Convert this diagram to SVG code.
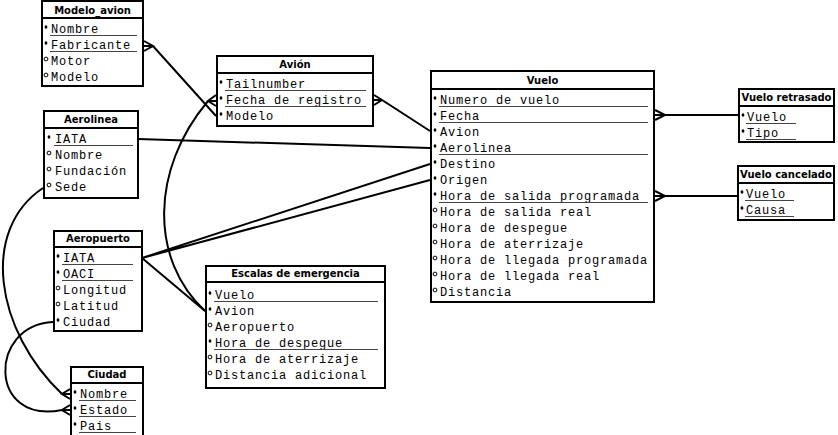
<svg xmlns="http://www.w3.org/2000/svg" xmlns:xlink="http://www.w3.org/1999/xlink" width="838" height="435" viewBox="0 0 838 435">
<style>
.box{fill:#fff;stroke:#000;stroke-width:2}
.sep{stroke:#000;stroke-width:2}
.t{font-family:"DejaVu Sans",Verdana,sans-serif;font-weight:bold;font-size:10px;text-anchor:middle;fill:#000}
.f{font-family:"Liberation Mono","Courier New",monospace;font-size:12px;letter-spacing:0.8px;fill:#000}
.u{stroke:#444;stroke-width:1}
.c{fill:none;stroke:#000;stroke-width:2}
</style>
<defs>
<path id="k" d="M0,-2.2 L1.6,0 L0,2.2 L-1.6,0 Z" fill="#000"/>
<circle id="o" r="1.9" fill="#fff" stroke="#000" stroke-width="1"/>
</defs>
<rect width="838" height="435" fill="#fff"/>

<g id="connectors">
  <!-- Modelo_avion - Avion -->
  <path class="c" d="M144,41 L153,46 L144,51 M144,46 L153,46 L216,116"/>
  <!-- Avion - Escalas curve -->
  <path class="c" d="M216,95 L208,101 L216,106 M216,101 L208,101 C150,170 150,260 205,311"/>
  <!-- Avion - Vuelo -->
  <path class="c" d="M374,95 L382,100 L374,105 M374,100 L382,100 L430,131"/>
  <!-- Aerolinea - Vuelo -->
  <path class="c" d="M138,139 L430,148"/>
  <!-- Aeropuerto - Vuelo / Escalas -->
  <path class="c" d="M142,258 L430,164 M142,258 L430,180 M142,258 L205,311"/>
  <!-- Vuelo - Vuelo retrasado -->
  <path class="c" d="M655,110 L665,115 L655,120 M655,115 L738,115"/>
  <!-- Vuelo - Vuelo cancelado -->
  <path class="c" d="M655,191 L665,196 L655,201 M655,196 L737,196"/>
  <!-- Aerolinea - Ciudad -->
  <path class="c" d="M43,188 C-20,230 -5,330 62,394 M70,389 L62,394 L70,399 M62,394 L70,394"/>
  <!-- Aeropuerto - Ciudad -->
  <path class="c" d="M53,322 C-12,325 -12,425 62,410 M70,405 L62,410 L70,415 M62,410 L70,410"/>
</g>

<g id="modelo_avion">
  <rect class="box" x="42" y="1" width="101" height="85"/>
  <line class="sep" x1="42" y1="18" x2="143" y2="18"/>
  <text class="t" x="92.5" y="13.5">Modelo_avion</text>
  <use xlink:href="#k" x="46" y="27"/><text class="f" x="51" y="33">Nombre</text><line class="u" x1="50" y1="35.5" x2="137" y2="35.5"/>
  <use xlink:href="#k" x="46" y="43"/><text class="f" x="51" y="49">Fabricante</text><line class="u" x1="50" y1="51.5" x2="137" y2="51.5"/>
  <use xlink:href="#o" x="46" y="59"/><text class="f" x="51" y="65">Motor</text>
  <use xlink:href="#o" x="46" y="75"/><text class="f" x="51" y="81">Modelo</text>
</g>

<g id="avion">
  <rect class="box" x="217" y="56" width="156" height="70"/>
  <line class="sep" x1="217" y1="73" x2="373" y2="73"/>
  <text class="t" x="295" y="68">Avión</text>
  <use xlink:href="#k" x="221" y="82"/><text class="f" x="226" y="88">Tailnumber</text><line class="u" x1="225" y1="90.5" x2="366" y2="90.5"/>
  <use xlink:href="#k" x="221" y="98"/><text class="f" x="226" y="104">Fecha de registro</text><line class="u" x1="225" y1="106.5" x2="366" y2="106.5"/>
  <use xlink:href="#k" x="221" y="114"/><text class="f" x="226" y="120">Modelo</text>
</g>

<g id="vuelo">
  <rect class="box" x="431" y="71" width="223" height="231"/>
  <line class="sep" x1="431" y1="89" x2="654" y2="89"/>
  <text class="t" x="542.5" y="84">Vuelo</text>
  <use xlink:href="#k" x="435" y="98"/><text class="f" x="440" y="104">Numero de vuelo</text><line class="u" x1="439" y1="106.5" x2="648" y2="106.5"/>
  <use xlink:href="#k" x="435" y="114"/><text class="f" x="440" y="120">Fecha</text><line class="u" x1="439" y1="122.5" x2="648" y2="122.5"/>
  <use xlink:href="#k" x="435" y="130"/><text class="f" x="440" y="136">Avion</text>
  <use xlink:href="#k" x="435" y="146"/><text class="f" x="440" y="152">Aerolinea</text><line class="u" x1="439" y1="154.5" x2="648" y2="154.5"/>
  <use xlink:href="#k" x="435" y="162"/><text class="f" x="440" y="168">Destino</text>
  <use xlink:href="#k" x="435" y="178"/><text class="f" x="440" y="184">Origen</text>
  <use xlink:href="#k" x="435" y="194"/><text class="f" x="440" y="200">Hora de salida programada</text><line class="u" x1="439" y1="202.5" x2="648" y2="202.5"/>
  <use xlink:href="#o" x="435" y="210"/><text class="f" x="440" y="216">Hora de salida real</text>
  <use xlink:href="#o" x="435" y="226"/><text class="f" x="440" y="232">Hora de despegue</text>
  <use xlink:href="#o" x="435" y="242"/><text class="f" x="440" y="248">Hora de aterrizaje</text>
  <use xlink:href="#o" x="435" y="258"/><text class="f" x="440" y="264">Hora de llegada programada</text>
  <use xlink:href="#o" x="435" y="274"/><text class="f" x="440" y="280">Hora de llegada real</text>
  <use xlink:href="#o" x="435" y="290"/><text class="f" x="440" y="296">Distancia</text>
</g>

<g id="vuelo_retrasado">
  <rect class="box" x="739" y="89" width="95" height="53"/>
  <line class="sep" x1="739" y1="106" x2="834" y2="106"/>
  <text class="t" x="786.5" y="101">Vuelo retrasado</text>
  <use xlink:href="#k" x="743" y="115"/><text class="f" x="747" y="121">Vuelo</text><line class="u" x1="746" y1="123.5" x2="796" y2="123.5"/>
  <use xlink:href="#k" x="743" y="131"/><text class="f" x="747" y="137">Tipo</text><line class="u" x1="746" y1="139.5" x2="796" y2="139.5"/>
</g>

<g id="vuelo_cancelado">
  <rect class="box" x="738" y="166" width="96" height="54"/>
  <line class="sep" x1="738" y1="183" x2="834" y2="183"/>
  <text class="t" x="786" y="178">Vuelo cancelado</text>
  <use xlink:href="#k" x="742" y="192"/><text class="f" x="746" y="198">Vuelo</text><line class="u" x1="745" y1="200.5" x2="794" y2="200.5"/>
  <use xlink:href="#k" x="742" y="208"/><text class="f" x="746" y="214">Causa</text><line class="u" x1="745" y1="216.5" x2="794" y2="216.5"/>
</g>

<g id="aerolinea">
  <rect class="box" x="44" y="111" width="94" height="87"/>
  <line class="sep" x1="44" y1="128" x2="138" y2="128"/>
  <text class="t" x="91" y="123">Aerolinea</text>
  <use xlink:href="#k" x="49" y="137"/><text class="f" x="55" y="143">IATA</text><line class="u" x1="54" y1="145.5" x2="133" y2="145.5"/>
  <use xlink:href="#o" x="49" y="153"/><text class="f" x="55" y="159">Nombre</text>
  <use xlink:href="#o" x="49" y="169"/><text class="f" x="55" y="175">Fundación</text>
  <use xlink:href="#o" x="49" y="185"/><text class="f" x="55" y="191">Sede</text>
</g>

<g id="aeropuerto">
  <rect class="box" x="54" y="231" width="88" height="100"/>
  <line class="sep" x1="54" y1="247" x2="142" y2="247"/>
  <text class="t" x="98" y="242">Aeropuerto</text>
  <use xlink:href="#k" x="58" y="256"/><text class="f" x="63" y="262">IATA</text><line class="u" x1="62" y1="264.5" x2="133" y2="264.5"/>
  <use xlink:href="#k" x="58" y="272"/><text class="f" x="63" y="278">OACI</text><line class="u" x1="62" y1="280.5" x2="133" y2="280.5"/>
  <use xlink:href="#o" x="58" y="288"/><text class="f" x="63" y="294">Longitud</text>
  <use xlink:href="#o" x="58" y="304"/><text class="f" x="63" y="310">Latitud</text>
  <use xlink:href="#k" x="58" y="320"/><text class="f" x="63" y="326">Ciudad</text>
</g>

<g id="ciudad">
  <rect class="box" x="71" y="367" width="72" height="80"/>
  <line class="sep" x1="71" y1="383" x2="143" y2="383"/>
  <text class="t" x="107" y="378">Ciudad</text>
  <use xlink:href="#k" x="75" y="392"/><text class="f" x="80" y="398">Nombre</text><line class="u" x1="79" y1="400.5" x2="136" y2="400.5"/>
  <use xlink:href="#k" x="75" y="408"/><text class="f" x="80" y="414">Estado</text><line class="u" x1="79" y1="416.5" x2="136" y2="416.5"/>
  <use xlink:href="#k" x="75" y="424"/><text class="f" x="80" y="430">Pais</text><line class="u" x1="79" y1="432.5" x2="136" y2="432.5"/>
</g>

<g id="escalas">
  <rect class="box" x="206" y="266" width="179" height="122"/>
  <line class="sep" x1="206" y1="282" x2="385" y2="282"/>
  <text class="t" x="295.5" y="277">Escalas de emergencia</text>
  <use xlink:href="#k" x="210" y="293"/><text class="f" x="215" y="299">Vuelo</text><line class="u" x1="214" y1="301.5" x2="378" y2="301.5"/>
  <use xlink:href="#k" x="210" y="309"/><text class="f" x="215" y="315">Avion</text>
  <use xlink:href="#o" x="210" y="325"/><text class="f" x="215" y="331">Aeropuerto</text>
  <use xlink:href="#k" x="210" y="341"/><text class="f" x="215" y="347">Hora de despegue</text><line class="u" x1="214" y1="349.5" x2="378" y2="349.5"/>
  <use xlink:href="#o" x="210" y="357"/><text class="f" x="215" y="363">Hora de aterrizaje</text>
  <use xlink:href="#o" x="210" y="373"/><text class="f" x="215" y="379">Distancia adicional</text>
</g>
</svg>
